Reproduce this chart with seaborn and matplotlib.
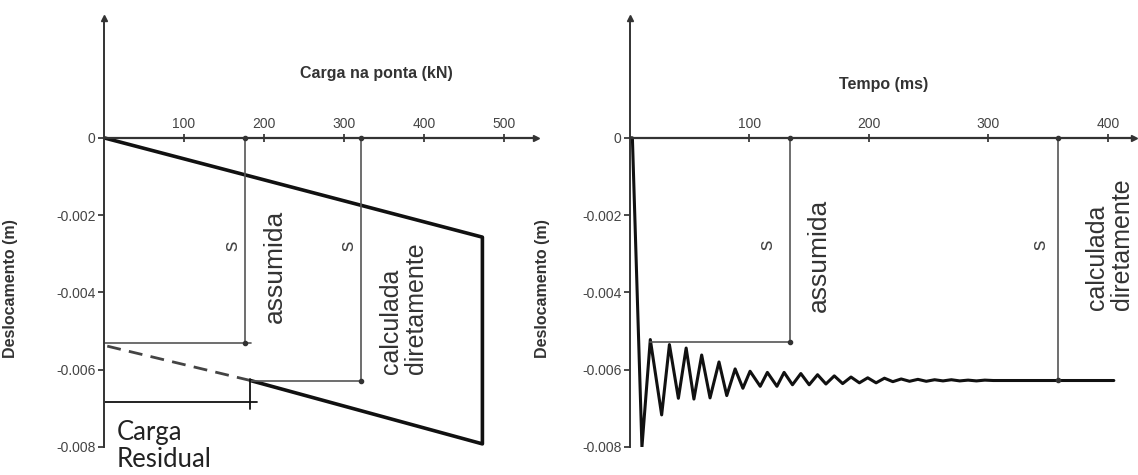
import numpy as np
import pandas as pd
import seaborn as sns
import matplotlib.pyplot as plt
from matplotlib.ticker import FuncFormatter

# ---- data ----
# left: load (kN) vs displacement (m)
load_path = [0, 473, 473, 183]
disp_path = [0, -0.00257, -0.00792, -0.00628]
dash_load = [183, 0]
dash_disp = [-0.00628, -0.00537]
s_assumed_load = 176
s_assumed_disp = -0.00532
s_calc_load = 321
s_calc_disp = -0.00628
residual_load = 183
residual_level = -0.00684

# right: time (ms) vs displacement (m)
time_ms = [0, 2, 10, 17, 26.5, 33, 40.5, 47, 53.5, 60, 67, 74.5, 81, 88, 94.5,
           100.5, 109, 115, 123, 129, 136, 143, 150, 157, 164, 171, 178, 185,
           192, 199, 206, 213, 220, 227, 234, 241, 248, 255, 262, 269, 276,
           283, 290, 297, 304, 405]
disp_t = [0, 0, -0.0080, -0.00522, -0.00717, -0.00535, -0.00674, -0.00544,
          -0.00676, -0.00562, -0.00673, -0.0058, -0.00667, -0.00598, -0.00648,
          -0.00604, -0.00643, -0.00607, -0.00643, -0.00607, -0.00639, -0.0061,
          -0.00639, -0.00613, -0.00637, -0.00616, -0.00636, -0.00619, -0.00634,
          -0.00621, -0.00634, -0.00622, -0.00631, -0.00624, -0.0063, -0.00625,
          -0.0063, -0.00626, -0.00629, -0.00626, -0.00629, -0.00627, -0.00629,
          -0.00627, -0.00628, -0.00628]
t_assumed = 134
t_assumed_start = 17
t_assumed_disp = -0.00528
t_calc = 358
t_calc_disp = -0.00627

y_ticks = [0, -0.002, -0.004, -0.006, -0.008]

sns.set_theme(style="white")
plt.rcParams['font.family'] = ['Liberation Sans', 'DejaVu Sans']
plt.rcParams['axes.unicode_minus'] = False

fig = plt.figure(figsize=(11.38, 4.75), dpi=100)
ax1 = fig.add_axes([0.0914, 0.059, 0.3796, 0.903])
ax2 = fig.add_axes([0.5536, 0.059, 0.443, 0.903])

AX_COL = "#333333"
REF_COL = "#555555"


def style_axis(ax, xmax, xticks):
    ax.set_xlim(0, xmax)
    ax.set_ylim(-0.008, 0.0031)
    for side in ["right", "bottom"]:
        ax.spines[side].set_visible(False)
    ax.spines["top"].set_position(("data", 0))
    ax.spines["top"].set_color(AX_COL)
    ax.spines["top"].set_linewidth(1.6)
    ax.spines["left"].set_color(AX_COL)
    ax.spines["left"].set_linewidth(1.4)
    ax.xaxis.tick_top()
    ax.set_xticks(xticks)
    ax.set_yticks(y_ticks)
    ax.yaxis.set_major_formatter(FuncFormatter(lambda v, p: "0" if v == 0 else f"{v:.3f}"))
    ax.tick_params(axis="x", direction="inout", length=6, pad=2, labelsize=10,
                   labelcolor="#444444", color=AX_COL)
    ax.tick_params(axis="y", left=True, direction="out", length=4, pad=2, labelsize=10,
                   labelcolor="#444444", color=AX_COL)
    # arrow heads
    ax.plot(1, 0, ">", color=AX_COL, ms=5, transform=ax.get_yaxis_transform(), clip_on=False)
    ax.plot(0, 1, "^", color=AX_COL, ms=5, transform=ax.get_xaxis_transform(), clip_on=False)
    ax.grid(False)


# ---------- left panel ----------
style_axis(ax1, 540, [100, 200, 300, 400, 500])
sns.lineplot(x=load_path, y=disp_path, sort=False, estimator=None, color="#111111",
             linewidth=2.6, ax=ax1)
ax1.plot(dash_load, dash_disp, color="#444444", linewidth=2, dashes=(5, 3))

ax1.plot([s_assumed_load, s_assumed_load], [0, s_assumed_disp], color=REF_COL, lw=1.2)
ax1.plot([0, s_assumed_load + 8], [s_assumed_disp, s_assumed_disp], color=REF_COL, lw=1.2)
ax1.plot([s_calc_load, s_calc_load], [0, s_calc_disp], color=REF_COL, lw=1.2)
ax1.plot([residual_load, s_calc_load], [s_calc_disp, s_calc_disp], color=REF_COL, lw=1.2)
ax1.plot([s_assumed_load, s_assumed_load, s_calc_load, s_calc_load],
         [0, s_assumed_disp, 0, s_calc_disp], "o", color=AX_COL, ms=3)

# carga residual bracket
ax1.plot([0, residual_load + 8], [residual_level, residual_level], color="#111111", lw=1.3)
ax1.plot([residual_load, residual_load], [-0.00623, -0.00701], color="#111111", lw=1.3)

ax1.text(160, -0.0028, "s", rotation=90, ha="center", va="center", fontsize=15, color="#444444")
ax1.text(214, -0.00333, "assumida", rotation=90, ha="center", va="center", fontsize=19,
         color="#333333")
ax1.text(305, -0.0028, "s", rotation=90, ha="center", va="center", fontsize=15, color="#444444")
ax1.text(374, -0.0061, "calculada\ndiretamente", rotation=90, ha="center", va="bottom",
         multialignment="left", fontsize=18, color="#333333", linespacing=1.05)
ax1.text(16, -0.0073, "Carga\nResidual", ha="left", va="top", fontsize=18.5,
         family="Lato", color="#222222", linespacing=1.1, clip_on=False)

ax1.set_xlabel("Carga na ponta (kN)", fontsize=11.5, fontweight="bold", color="#333333")
ax1.xaxis.set_label_position("top")
ax1.xaxis.set_label_coords(341 / 540, 0.86)
ax1.xaxis.label.set_va("baseline")
ax1.set_ylabel("Deslocamento (m)", fontsize=11.5, fontweight="bold", color="#333333")
ax1.yaxis.set_label_coords(-0.199, 0.37)

# ---------- right panel ----------
style_axis(ax2, 422, [100, 200, 300, 400])
sns.lineplot(x=time_ms, y=disp_t, sort=False, estimator=None, color="#111111",
             linewidth=2.2, ax=ax2)

ax2.plot([t_assumed, t_assumed], [0, t_assumed_disp], color=REF_COL, lw=1.2)
ax2.plot([t_assumed_start, t_assumed], [t_assumed_disp, t_assumed_disp], color=REF_COL, lw=1.2)
ax2.plot([t_calc, t_calc], [0, t_calc_disp], color=REF_COL, lw=1.2)
ax2.plot([t_assumed, t_assumed, t_calc, t_calc], [0, t_assumed_disp, 0, t_calc_disp], "o",
         color=AX_COL, ms=3)

ax2.text(115, -0.00278, "s", rotation=90, ha="center", va="center", fontsize=15, color="#444444")
ax2.text(158, -0.00303, "assumida", rotation=90, ha="center", va="center", fontsize=19,
         color="#333333")
ax2.text(343, -0.00278, "s", rotation=90, ha="center", va="center", fontsize=15, color="#444444")
ax2.text(401, -0.00446, "calculada\ndiretamente", rotation=90, ha="center", va="bottom",
         multialignment="left", fontsize=18, color="#333333", linespacing=1.05)

ax2.set_xlabel("Tempo (ms)", fontsize=11.5, fontweight="bold", color="#333333")
ax2.xaxis.set_label_position("top")
ax2.xaxis.set_label_coords(212 / 422, 0.835)
ax2.xaxis.label.set_va("baseline")
ax2.set_ylabel("Deslocamento (m)", fontsize=11.5, fontweight="bold", color="#333333")
ax2.yaxis.set_label_coords(-0.159, 0.37)

fig.savefig("out.png", dpi=100)
